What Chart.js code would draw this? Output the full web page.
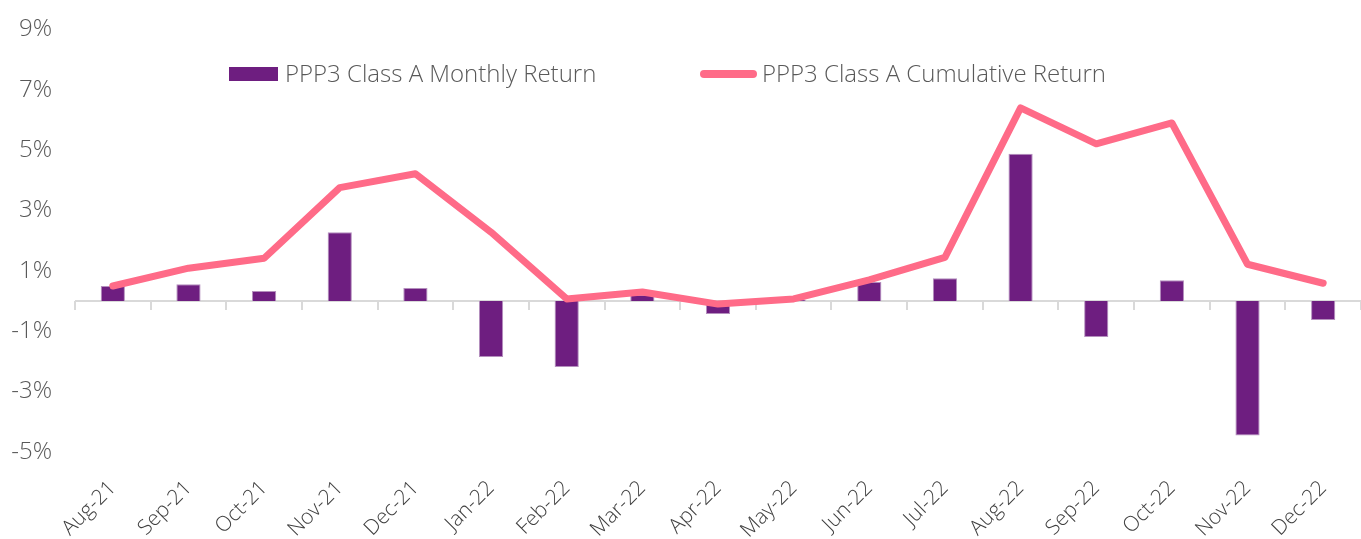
<!DOCTYPE html>
<html>
<head>
<meta charset="utf-8">
<script src="https://cdn.jsdelivr.net/npm/chart.js@4"></script>
<style>
  html, body { margin: 0; padding: 0; background: #fff; }
  #wrap { position: relative; width: 1361px; height: 539px; overflow: hidden; }
  canvas { display: block; }
  .lg { position: absolute; font-family: "Open Sans", sans-serif; font-weight: 300; font-size: 24px; color: #595959; line-height: 1; white-space: nowrap; }
  .sw1 { position: absolute; left: 229px; top: 67px; width: 49px; height: 14px; background: #6E1E80; }
  .sw2 { position: absolute; left: 700px; top: 70px; width: 57px; height: 8px; border-radius: 4px; background: #FF6B88; }
</style>
</head>
<body>
<div id="wrap">
  <canvas id="c" width="1361" height="539"></canvas>
  <div class="sw1"></div>
  <div class="lg" id="t1" style="left:285px; top:61px;"></div>
  <div class="sw2"></div>
  <div class="lg" id="t2" style="left:762px; top:61px;"></div>
</div>
<script>
const categories = ["Aug-21","Sep-21","Oct-21","Nov-21","Dec-21","Jan-22","Feb-22","Mar-22","Apr-22","May-22","Jun-22","Jul-22","Aug-22","Sep-22","Oct-22","Nov-22","Dec-22"];
const monthlyReturn = [0.50, 0.56, 0.33, 2.28, 0.43, -1.85, -2.18, 0.20, -0.43, 0.05, 0.63, 0.76, 4.88, -1.19, 0.69, -4.45, -0.63];
const cumulativeReturn = [0.50, 1.09, 1.42, 3.76, 4.22, 2.28, 0.07, 0.30, -0.10, 0.07, 0.70, 1.45, 6.40, 5.21, 5.90, 1.22, 0.59];
const seriesNames = ["PPP3 Class A Monthly Return", "PPP3 Class A Cumulative Return"];
const yTicks = [-5, -3, -1, 1, 3, 5, 7, 9];

document.getElementById('t1').textContent = seriesNames[0];
document.getElementById('t2').textContent = seriesNames[1];

const zeroTicks = {
  id: 'zeroTicks',
  beforeDatasetsDraw(chart) {
    const x = chart.scales.x, y = chart.scales.y;
    const y0 = y.getPixelForValue(0);
    const step = x.getPixelForValue(1) - x.getPixelForValue(0);
    const ctx = chart.ctx;
    ctx.save();
    ctx.strokeStyle = '#d9d9d9';
    ctx.lineWidth = 2;
    ctx.beginPath();
    ctx.moveTo(chart.chartArea.left, y0);
    ctx.lineTo(chart.chartArea.right, y0);
    for (let i = 0; i <= categories.length; i++) {
      const px = Math.round(x.getPixelForValue(0) - step / 2 + i * step);
      ctx.moveTo(px, y0);
      ctx.lineTo(px, y0 + 9);
    }
    ctx.stroke();
    ctx.restore();
  }
};

new Chart(document.getElementById('c'), {
  data: {
    labels: categories,
    datasets: [
      {
        type: 'line',
        label: seriesNames[1],
        data: cumulativeReturn,
        borderColor: '#FF6B88',
        backgroundColor: '#FF6B88',
        borderWidth: 7,
        borderCapStyle: 'round',
        borderJoinStyle: 'round',
        pointRadius: 0,
        tension: 0,
        order: 0
      },
      {
        type: 'bar',
        label: seriesNames[0],
        data: monthlyReturn,
        backgroundColor: '#6E1E80',
        borderColor: '#b48fbd',
        borderWidth: 1,
        barPercentage: 1,
        categoryPercentage: 0.32,
        order: 1
      }
    ]
  },
  options: {
    responsive: false,
    devicePixelRatio: 1,
    animation: false,
    layout: { padding: { top: 15, left: 0, right: 0, bottom: 0 } },
    plugins: { legend: { display: false }, tooltip: { enabled: false } },
    scales: {
      x: {
        grid: { display: false },
        border: { display: false },
        ticks: {
          minRotation: 45, maxRotation: 45, autoSkip: false,
          color: '#404040', padding: 16,
          font: { family: 'Open Sans', weight: 300, size: 21 }
        },
        afterFit(s) { s.height = 87; }
      },
      y: {
        min: -5, max: 9,
        grid: { display: false },
        border: { display: false },
        afterBuildTicks(s) { s.ticks = yTicks.map(v => ({ value: v })); },
        ticks: {
          padding: 15,
          color: '#595959',
          font: { family: 'Open Sans', weight: 300, size: 24 },
          callback: v => v + '%'
        },
        afterFit(s) { s.width = 75; }
      }
    }
  },
  plugins: [zeroTicks]
});
</script>
</body>
</html>
